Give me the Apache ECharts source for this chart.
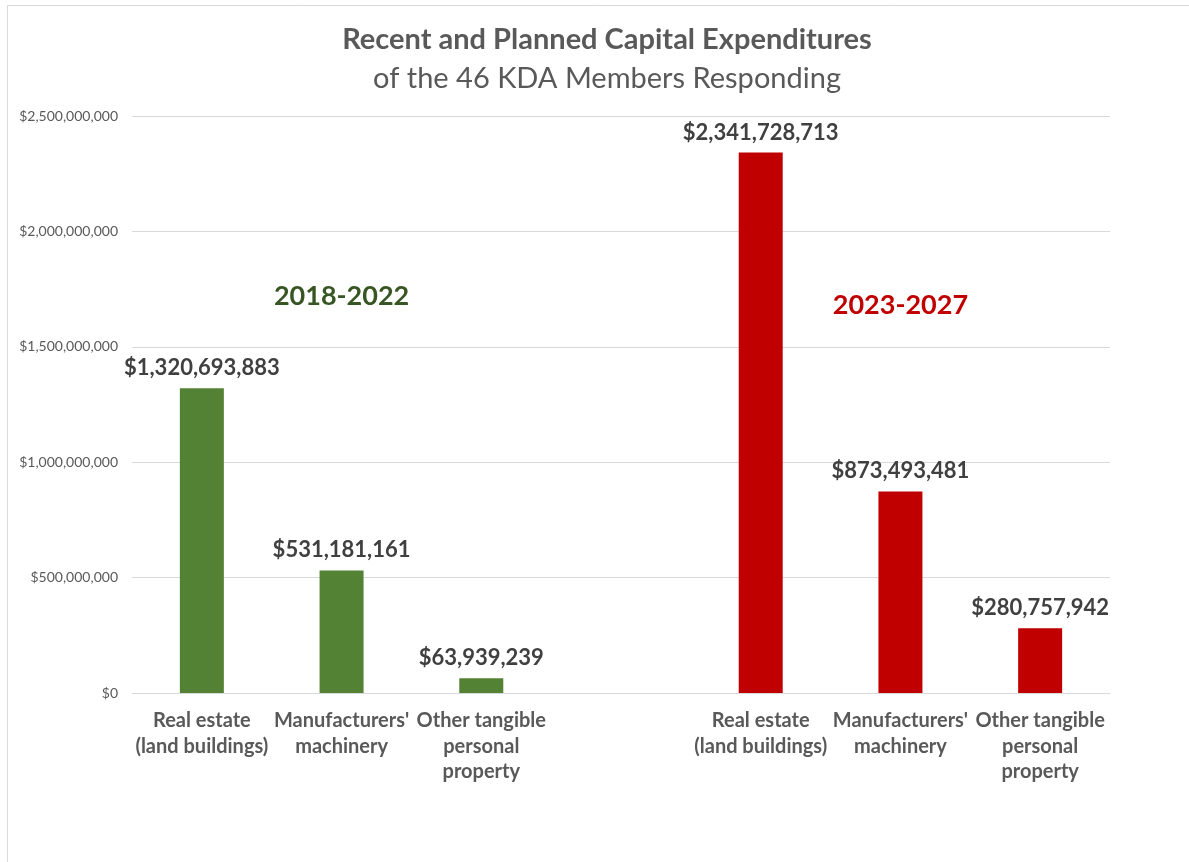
<!DOCTYPE html>
<html>
<head>
<meta charset="utf-8">
<script src="https://cdn.jsdelivr.net/npm/echarts@6/dist/echarts.min.js"></script>
<style>
  html, body { margin: 0; padding: 0; background: #fff; }
  #chart { width: 1189px; height: 862px; }
</style>
</head>
<body>
<div id="chart"></div>
<script>
// Capital expenditure categories; the empty slot separates the two periods
const categories = [
  'Real estate\n(land buildings)', "Manufacturers'\nmachinery", 'Other tangible\npersonal\nproperty',
  '',
  'Real estate\n(land buildings)', "Manufacturers'\nmachinery", 'Other tangible\npersonal\nproperty'
];
const recent = [1320693883, 531181161, 63939239, null, null, null, null];
const planned = [null, null, null, null, 2341728713, 873493481, 280757942];
const periodLabels = ['2018-2022', '2023-2027'];
// Where each period caption sits: [category index, value]
const periodAnchors = [[1, 1720000000], [5, 1680000000]];

const FONT = 'Lato, "Open Sans", "Noto Sans", sans-serif';

function money(v) {
  return '$' + Math.round(v).toString().replace(/\B(?=(\d{3})+(?!\d))/g, ',');
}

const chart = echarts.init(document.getElementById('chart'), null, { renderer: 'canvas' });

const barLabel = {
  show: true,
  position: 'top',
  distance: 9,
  fontFamily: FONT,
  fontSize: 22,
  fontWeight: 'bold',
  color: '#404040',
  formatter: p => (p.value == null ? '' : money(p.value))
};

function periodSeries(i, color) {
  return {
    type: 'scatter',
    silent: true,
    symbolSize: 1,
    itemStyle: { color: 'rgba(0,0,0,0)', opacity: 1 },
    data: [periodAnchors[i]],
    label: {
      show: true,
      position: 'inside',
      formatter: periodLabels[i],
      opacity: 1,
      fontFamily: FONT, fontSize: 27, fontWeight: 'bold', color: color
    },
    z: 5
  };
}

chart.setOption({
  backgroundColor: '#fff',
  animation: false,
  title: {
    text: 'Recent and Planned Capital Expenditures',
    subtext: 'of the 46 KDA Members Responding',
    left: 602,
    textAlign: 'center',
    top: 20,
    itemGap: 10,
    textStyle: { fontFamily: FONT, fontSize: 29, fontWeight: 'bold', color: '#595959' },
    subtextStyle: { fontFamily: FONT, fontSize: 29, fontWeight: 'normal', color: '#595959' }
  },
  graphic: [{
    type: 'rect',
    shape: { x: 7.5, y: 5.5, width: 1200, height: 900 },
    style: { fill: 'none', stroke: '#d9d9d9', lineWidth: 1 },
    silent: true
  }],
  grid: { left: 132, right: 79, top: 116, bottom: 169 },
  xAxis: {
    type: 'category',
    data: categories,
    axisLine: { show: true, lineStyle: { color: '#d9d9d9' } },
    axisTick: { show: false },
    axisLabel: {
      interval: 0,
      margin: 15,
      fontFamily: FONT,
      fontSize: 20,
      fontWeight: 'bold',
      color: '#595959',
      lineHeight: 25.5
    }
  },
  yAxis: {
    type: 'value',
    min: 0,
    max: 2500000000,
    interval: 500000000,
    axisLine: { show: false },
    axisTick: { show: false },
    splitLine: { lineStyle: { color: '#d9d9d9' } },
    axisLabel: {
      margin: 14,
      fontFamily: FONT,
      fontSize: 14,
      color: '#595959',
      formatter: v => money(v)
    }
  },
  series: [
    {
      name: periodLabels[0],
      type: 'bar',
      data: recent,
      barWidth: 44,
      barGap: '-100%',
      itemStyle: { color: '#548235' },
      label: barLabel
    },
    {
      name: periodLabels[1],
      type: 'bar',
      data: planned,
      barWidth: 44,
      itemStyle: { color: '#C00000' },
      label: barLabel
    },
    periodSeries(0, '#375623'),
    periodSeries(1, '#C00000')
  ]
});
</script>
</body>
</html>
